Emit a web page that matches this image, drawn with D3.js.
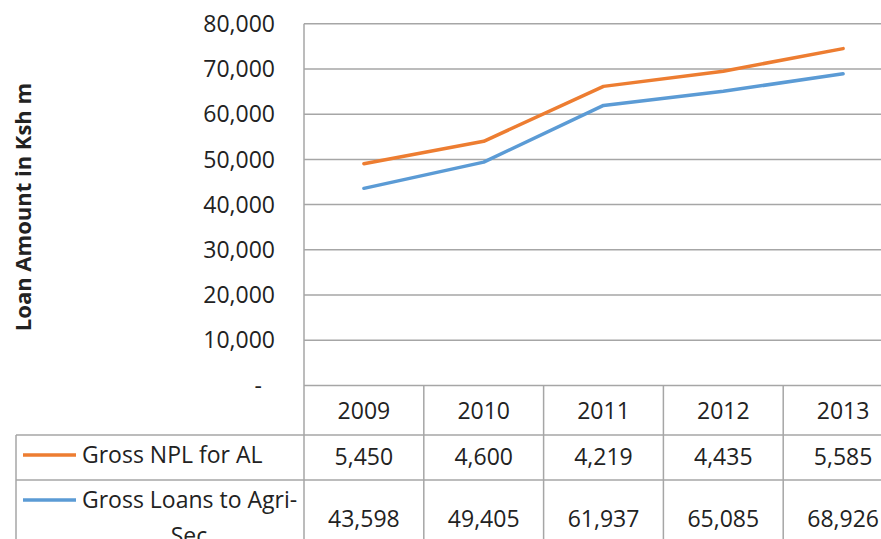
<!DOCTYPE html>
<html><head><meta charset="utf-8">
<script src="https://cdn.jsdelivr.net/npm/d3@7"></script>
<style>body{margin:0;background:#fff}svg{display:block}text{font-family:"Open Sans",sans-serif;fill:#222}</style>
</head><body><svg id="c" width="881" height="539"></svg>
<script>
const years = ["2009","2010","2011","2012","2013"];
const loansAgri = [43598,49405,61937,65085,68926];
const nplAL = [5450,4600,4219,4435,5585];
const yTicks = [0,10000,20000,30000,40000,50000,60000,70000,80000];
const seriesNames = ["Gross NPL for AL","Gross Loans to Agri-Sec"];
const colors = {npl:"#ED7D31", loans:"#5B9BD5"};

const svg = d3.select("#c");
const fs = 23;
const pLeft = 304, pRight = 903, pTop = 23.8, pBottom = 385.4;
const x = d3.scaleBand().domain(years).range([pLeft,pRight]);
const y = d3.scaleLinear().domain([0,80000]).range([pBottom,pTop]);
const grid = "#a6a6a6";

// stacked series (Excel stacked line)
const rows = years.map((yr,i)=>({year:yr, loans:loansAgri[i], npl:nplAL[i]}));
const stack = d3.stack().keys(["loans","npl"])(rows);

// gridlines
svg.append("g").selectAll("line").data(yTicks).join("line")
  .attr("x1",pLeft).attr("x2",pRight).attr("y1",d=>y(d)).attr("y2",d=>y(d))
  .attr("stroke",grid).attr("stroke-width",1.5);
// left axis line
svg.append("line").attr("x1",pLeft).attr("x2",pLeft).attr("y1",pTop).attr("y2",539)
  .attr("stroke",grid).attr("stroke-width",1.5);

// tick labels
const fmt = d3.format(",");
svg.append("g").selectAll("text").data(yTicks).join("text")
  .attr("x",d=>d===0?262:275).attr("y",d=>y(d)).attr("dy","0.36em")
  .attr("text-anchor","end").attr("font-size",fs)
  .text(d=>d===0?"-":fmt(d));

// axis title
svg.append("text").attr("transform","translate(31,207) rotate(-90)")
  .attr("text-anchor","middle").attr("font-size",22).attr("font-weight","bold")
  .text("Loan Amount in Ksh m");

// lines
const line = d3.line().x((d,i)=>x(years[i])+x.bandwidth()/2).y(d=>y(d[1]));
svg.append("path").datum(stack[0]).attr("d",line).attr("fill","none")
  .attr("stroke",colors.loans).attr("stroke-width",3.5).attr("stroke-linecap","round").attr("stroke-linejoin","round");
svg.append("path").datum(stack[1]).attr("d",line).attr("fill","none")
  .attr("stroke",colors.npl).attr("stroke-width",3.5).attr("stroke-linecap","round").attr("stroke-linejoin","round");

// data table
const r1 = 435, r2 = 480;
const tbl = svg.append("g");
[r1,r2].forEach(yy=>tbl.append("line").attr("x1",16).attr("x2",pRight).attr("y1",yy).attr("y2",yy)
  .attr("stroke",grid).attr("stroke-width",1.5));
tbl.append("line").attr("x1",16).attr("x2",16).attr("y1",r1).attr("y2",539).attr("stroke",grid).attr("stroke-width",1.5);
tbl.selectAll("line.v").data(years.slice(1)).join("line").attr("class","v")
  .attr("x1",d=>x(d)).attr("x2",d=>x(d)).attr("y1",pBottom).attr("y2",539)
  .attr("stroke",grid).attr("stroke-width",1.5);
tbl.selectAll("text.yr").data(years).join("text").attr("class","yr")
  .attr("x",d=>x(d)+x.bandwidth()/2).attr("y",411).attr("dy","0.36em")
  .attr("text-anchor","middle").attr("font-size",fs).text(d=>d);
tbl.selectAll("text.npl").data(nplAL).join("text").attr("class","npl")
  .attr("x",(d,i)=>x(years[i])+x.bandwidth()/2).attr("y",457).attr("dy","0.36em")
  .attr("text-anchor","middle").attr("font-size",fs).text(d=>fmt(d));
tbl.selectAll("text.ln").data(loansAgri).join("text").attr("class","ln")
  .attr("x",(d,i)=>x(years[i])+x.bandwidth()/2).attr("y",519).attr("dy","0.36em")
  .attr("text-anchor","middle").attr("font-size",fs).text(d=>fmt(d));

// legend keys
tbl.append("line").attr("x1",23).attr("x2",76).attr("y1",455).attr("y2",455)
  .attr("stroke",colors.npl).attr("stroke-width",3.5);
tbl.append("text").attr("x",82).attr("y",455).attr("dy","0.36em").attr("font-size",fs).text(seriesNames[0]);
tbl.append("line").attr("x1",23).attr("x2",76).attr("y1",500).attr("y2",500)
  .attr("stroke",colors.loans).attr("stroke-width",3.5);
tbl.append("text").attr("x",82).attr("y",500).attr("dy","0.36em").attr("font-size",fs).text("Gross Loans to Agri-");
tbl.append("text").attr("x",189).attr("y",536).attr("dy","0.36em").attr("text-anchor","middle").attr("font-size",fs).text("Sec");
</script></body></html>
